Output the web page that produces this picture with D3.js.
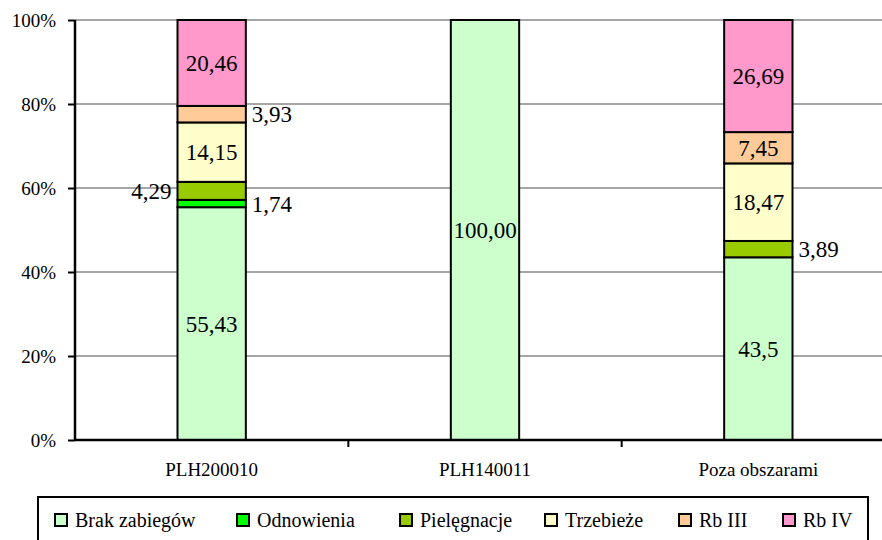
<!DOCTYPE html>
<html>
<head>
<meta charset="utf-8">
<script src="https://cdn.jsdelivr.net/npm/d3@7"></script>
</head>
<body style="margin:0; background:#fff">
<div id="chart"></div>
<script>
// categories and series
var categories = ["PLH200010", "PLH140011", "Poza obszarami"];
var series = ["Brak zabiegów", "Odnowienia", "Pielęgnacje", "Trzebieże", "Rb III", "Rb IV"];
var colors = ["#ccffcc", "#00ff00", "#99cc00", "#ffffcc", "#ffcc99", "#ff99cc"];

// values per series, in category order
var brak = [55.43, 100.00, 43.5];
var odnowienia = [1.74, 0, 0];
var pielegnacje = [4.29, 0, 3.89];
var trzebieze = [14.15, 0, 18.47];
var rb3 = [3.93, 0, 7.45];
var rb4 = [20.46, 0, 26.69];
var labelText = [
    ["55,43", "100,00", "43,5"],
    ["1,74", "", ""],
    ["4,29", "", "3,89"],
    ["14,15", "", "18,47"],
    ["3,93", "", "7,45"],
    ["20,46", "", "26,69"]
];
var yTicks = [0, 20, 40, 60, 80, 100];

var values = [brak, odnowienia, pielegnacje, trzebieze, rb3, rb4];
var FONT = "Liberation Serif";

var width = 882, height = 540;
var margin = { top: 20, right: -13, bottom: 100, left: 75 };

var svg = d3.select("#chart")
    .append("svg")
    .attr("width", width)
    .attr("height", height)
    .attr("font-family", FONT);

var table = categories.map(function(c, i) {
    var row = { cat: c };
    series.forEach(function(s, j) { row[s] = values[j][i]; });
    return row;
});
var stacked = d3.stack().keys(series)(table);

var x = d3.scaleBand()
    .domain(categories)
    .range([margin.left, width - margin.right])
    .padding(0);
var y = d3.scaleLinear()
    .domain([0, 100])
    .range([height - margin.bottom, margin.top]);

var barW = x.bandwidth() * 0.25;

// grid lines
svg.selectAll(".grid")
    .data(yTicks.filter(function(t) { return t > 0; }))
    .enter()
    .append("line")
    .attr("x1", margin.left)
    .attr("x2", width)
    .attr("y1", function(d) { return y(d); })
    .attr("y2", function(d) { return y(d); })
    .attr("stroke", "#a6a6a6")
    .attr("stroke-width", 2);

// bars
var groups = svg.selectAll(".layer")
    .data(stacked)
    .enter()
    .append("g")
    .attr("fill", function(d, i) { return colors[i]; });

groups.selectAll("rect")
    .data(function(d) { return d.filter(function(p) { return p[1] - p[0] > 0; }); })
    .enter()
    .append("rect")
    .attr("x", function(d) { return x(d.data.cat) + (x.bandwidth() - barW) / 2; })
    .attr("y", function(d) { return y(d[1]); })
    .attr("width", barW)
    .attr("height", function(d) { return y(d[0]) - y(d[1]); })
    .attr("stroke", "#000")
    .attr("stroke-width", 2);

// y axis
var yAxis = svg.append("g")
    .attr("transform", "translate(" + margin.left + ",0)")
    .call(d3.axisLeft(y).tickValues(yTicks).tickSize(7).tickFormat(function(d) { return d + "%"; }));
yAxis.attr("font-family", FONT).attr("font-size", 19);
yAxis.select(".domain").attr("stroke-width", 2.5).attr("d", "M0," + y(0) + "V" + y(100));
yAxis.selectAll(".tick line").attr("stroke-width", 2);
yAxis.selectAll(".tick text")
    .attr("x", -19)
    .attr("font-family", FONT)
    .attr("font-size", 19)
    .attr("fill", "#000");

// x axis
var xAxisG = svg.append("g");
xAxisG.append("line")
    .attr("x1", margin.left)
    .attr("x2", width)
    .attr("y1", y(0))
    .attr("y2", y(0))
    .attr("stroke", "#000")
    .attr("stroke-width", 2.5);
xAxisG.selectAll(".xtick")
    .data(categories)
    .enter()
    .append("line")
    .attr("x1", function(d) { return x(d) + x.bandwidth(); })
    .attr("x2", function(d) { return x(d) + x.bandwidth(); })
    .attr("y1", y(0))
    .attr("y2", y(0) + 7)
    .attr("stroke", "#000")
    .attr("stroke-width", 2);
xAxisG.selectAll(".xlab")
    .data(categories)
    .enter()
    .append("text")
    .attr("x", function(d) { return x(d) + x.bandwidth() / 2; })
    .attr("y", y(0) + 36)
    .attr("text-anchor", "middle")
    .attr("font-family", FONT)
    .attr("font-size", 19)
    .text(function(d) { return d; });

// value labels: small values go outside the bar
stacked.forEach(function(layer, j) {
    layer.forEach(function(p, i) {
        var v = p[1] - p[0];
        if (v <= 0) return;
        var cx = x(p.data.cat) + x.bandwidth() / 2;
        var cy = y((p[0] + p[1]) / 2);
        var anchor = "middle", lx = cx;
        if (v < 5) {
            // neighbour below also outside and close -> go left
            var below = j > 0 ? stacked[j - 1][i] : null;
            var belowSmall = below && (below[1] - below[0]) > 0 && (below[1] - below[0]) < 5;
            if (belowSmall && Math.abs(y((below[0] + below[1]) / 2) - cy) < 20) {
                anchor = "end";
                lx = cx - barW / 2 - 6;
            } else {
                anchor = "start";
                lx = cx + barW / 2 + 6;
            }
        }
        svg.append("text")
            .attr("x", lx)
            .attr("y", cy)
            .attr("dy", "0.35em")
            .attr("text-anchor", anchor)
            .attr("font-family", FONT)
            .attr("font-size", 23)
            .attr("fill", "#000")
            .text(labelText[j][i]);
    });
});

// legend
var legend = svg.append("g");
legend.append("rect")
    .attr("x", 38)
    .attr("y", 497)
    .attr("width", 830)
    .attr("height", 60)
    .attr("fill", "#fff")
    .attr("stroke", "#000")
    .attr("stroke-width", 2);
var legendX = [55, 237, 400, 545, 679, 783];
var items = legend.selectAll(".item")
    .data(series)
    .enter()
    .append("g")
    .attr("transform", function(d, i) { return "translate(" + legendX[i] + ",514)"; });
items.append("rect")
    .attr("width", 12)
    .attr("height", 12)
    .attr("fill", function(d, i) { return colors[i]; })
    .attr("stroke", "#000")
    .attr("stroke-width", 2);
items.append("text")
    .attr("x", 20)
    .attr("y", 13)
    .attr("font-family", FONT)
    .attr("font-size", 20)
    .text(function(d) { return d; });
</script>
</body>
</html>
